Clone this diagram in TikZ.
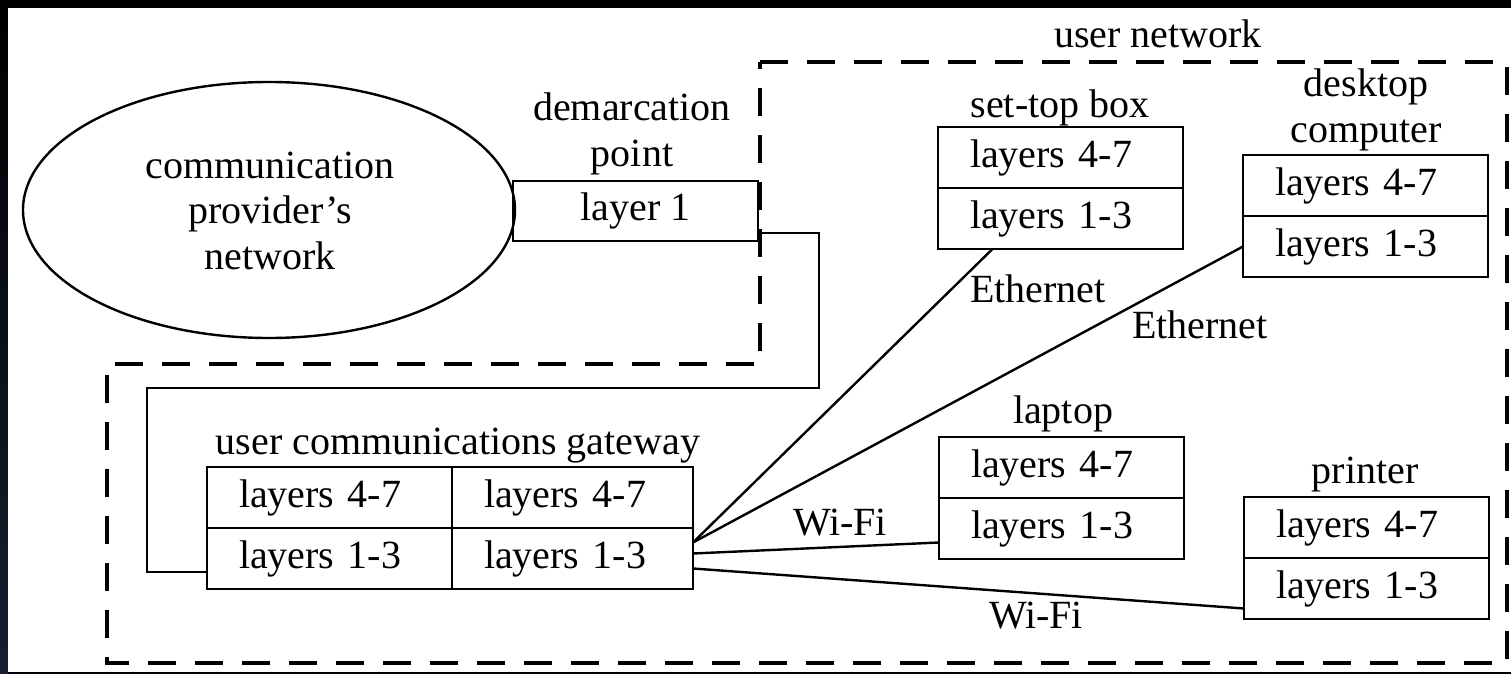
\documentclass[tikz,border=0pt]{standalone}
\usepackage{fontspec}
\setmainfont{Liberation Serif}
\usetikzlibrary{shapes.geometric,calc}
\begin{document}
\begin{tikzpicture}[x=0.5pt,y=-0.5pt,
  every node/.style={font=\fontsize{20}{22.5}\selectfont},
  layerbox/.style={draw, rectangle, line width=1.4pt, inner xsep=16pt, inner ysep=0pt, outer sep=0pt,
    minimum height=30.5pt, text width=90.5pt, align=left},
  lbl/.style={anchor=base, inner sep=0pt},
  conn/.style={line width=1.2pt},
  loopline/.style={line width=1pt},
  zone/.style={line width=1.6pt, dash pattern=on 14pt off 9.5pt},
]
% frame and background
\useasboundingbox (0,0) rectangle (1511,674);
\fill[black] (0,0) rectangle (1511,674);
\shade[top color=black, bottom color={rgb,255:red,22;green,32;blue,48}] (0,0) rectangle (8,674);
\fill[white] (8,8) rectangle (1511,672);

% user network zone
\draw[zone] (760,62) -- (1507,62) -- (1507,663) -- (107,663) -- (107,364) -- (760,364) -- cycle;
\node[lbl] (unl) at (1158,48) {user network};

% communication provider's network
\node[draw, ellipse, line width=1.2pt, minimum width=246pt, minimum height=128pt, inner sep=0pt, outer sep=0pt] (cpn) at (269,210) {};
\node[lbl] (cpn1) at (270,178) {communication};
\node[lbl] (cpn2) at (270,223) {provider’s};
\node[lbl] (cpn3) at (270,269) {network};

% demarcation point
\node[draw, rectangle, line width=1.4pt, minimum width=122.5pt, minimum height=30pt, inner sep=0pt, outer sep=0pt, anchor=north west] (dem) at (513,181) {layer 1};
\node[lbl] (deml1) at (632,121) {demarcation};
\node[lbl] (deml2) at (632,167) {point};

% user communications gateway
\node[layerbox, anchor=north west] (gw47a) at (207,467) {layers 4-7};
\node[layerbox, anchor=north] (gw13a) at (gw47a.south) {layers 1-3};
\node[layerbox, text width=88.5pt, anchor=north west] (gw47b) at (gw47a.north east) {layers 4-7};
\node[layerbox, text width=88.5pt, anchor=north] (gw13b) at (gw47b.south) {layers 1-3};
\node[lbl] (gwl) at (458,454) {user communications gateway};

% set-top box
\node[layerbox, anchor=north west] (stb47) at (938,127) {layers 4-7};
\node[layerbox, anchor=north] (stb13) at (stb47.south) {layers 1-3};
\node[lbl] (stbl) at (1060,118) {set-top box};

% desktop computer
\node[layerbox, anchor=north west] (desk47) at (1243,155) {layers 4-7};
\node[layerbox, anchor=north] (desk13) at (desk47.south) {layers 1-3};
\node[lbl] (deskl1) at (1366,97) {desktop};
\node[lbl] (deskl2) at (1366,142) {computer};

% laptop
\node[layerbox, anchor=north west] (lap47) at (939,437) {layers 4-7};
\node[layerbox, anchor=north] (lap13) at (lap47.south) {layers 1-3};
\node[lbl] (lapl) at (1063,423) {laptop};

% printer
\node[layerbox, anchor=north west] (prn47) at (1244,497) {layers 4-7};
\node[layerbox, anchor=north] (prn13) at (prn47.south) {layers 1-3};
\node[lbl] (prnl) at (1365,483) {printer};

% loop from demarcation point to gateway
\coordinate (c1) at (819,388);
\coordinate (c2) at (147,572);
\draw[loopline] ($(dem.south east)+(0,-8)$) -| (c1) -| (c2) -- (c2 -| gw13a.west);

% connectors from gateway
\draw[conn] ($(gw13b.east)+(0,-16)$) -- ($(stb13.south)+(-68,0)$);
\draw[conn] ($(gw13b.east)+(0,-16)$) -- (desk13.west);
\draw[conn] ($(gw13b.east)+(0,-5)$) -- ($(lap13.west)+(0,14)$);
\draw[conn] ($(gw13b.east)+(0,10)$) -- ($(prn13.west)+(0,20)$);

\node[lbl] (eth1) at (1038,302) {Ethernet};
\node[lbl] (eth2) at (1200,338) {Ethernet};
\node[lbl] (wifi1) at (840,535) {Wi-Fi};
\node[lbl] (wifi2) at (1036,628) {Wi-Fi};
\end{tikzpicture}
\end{document}
